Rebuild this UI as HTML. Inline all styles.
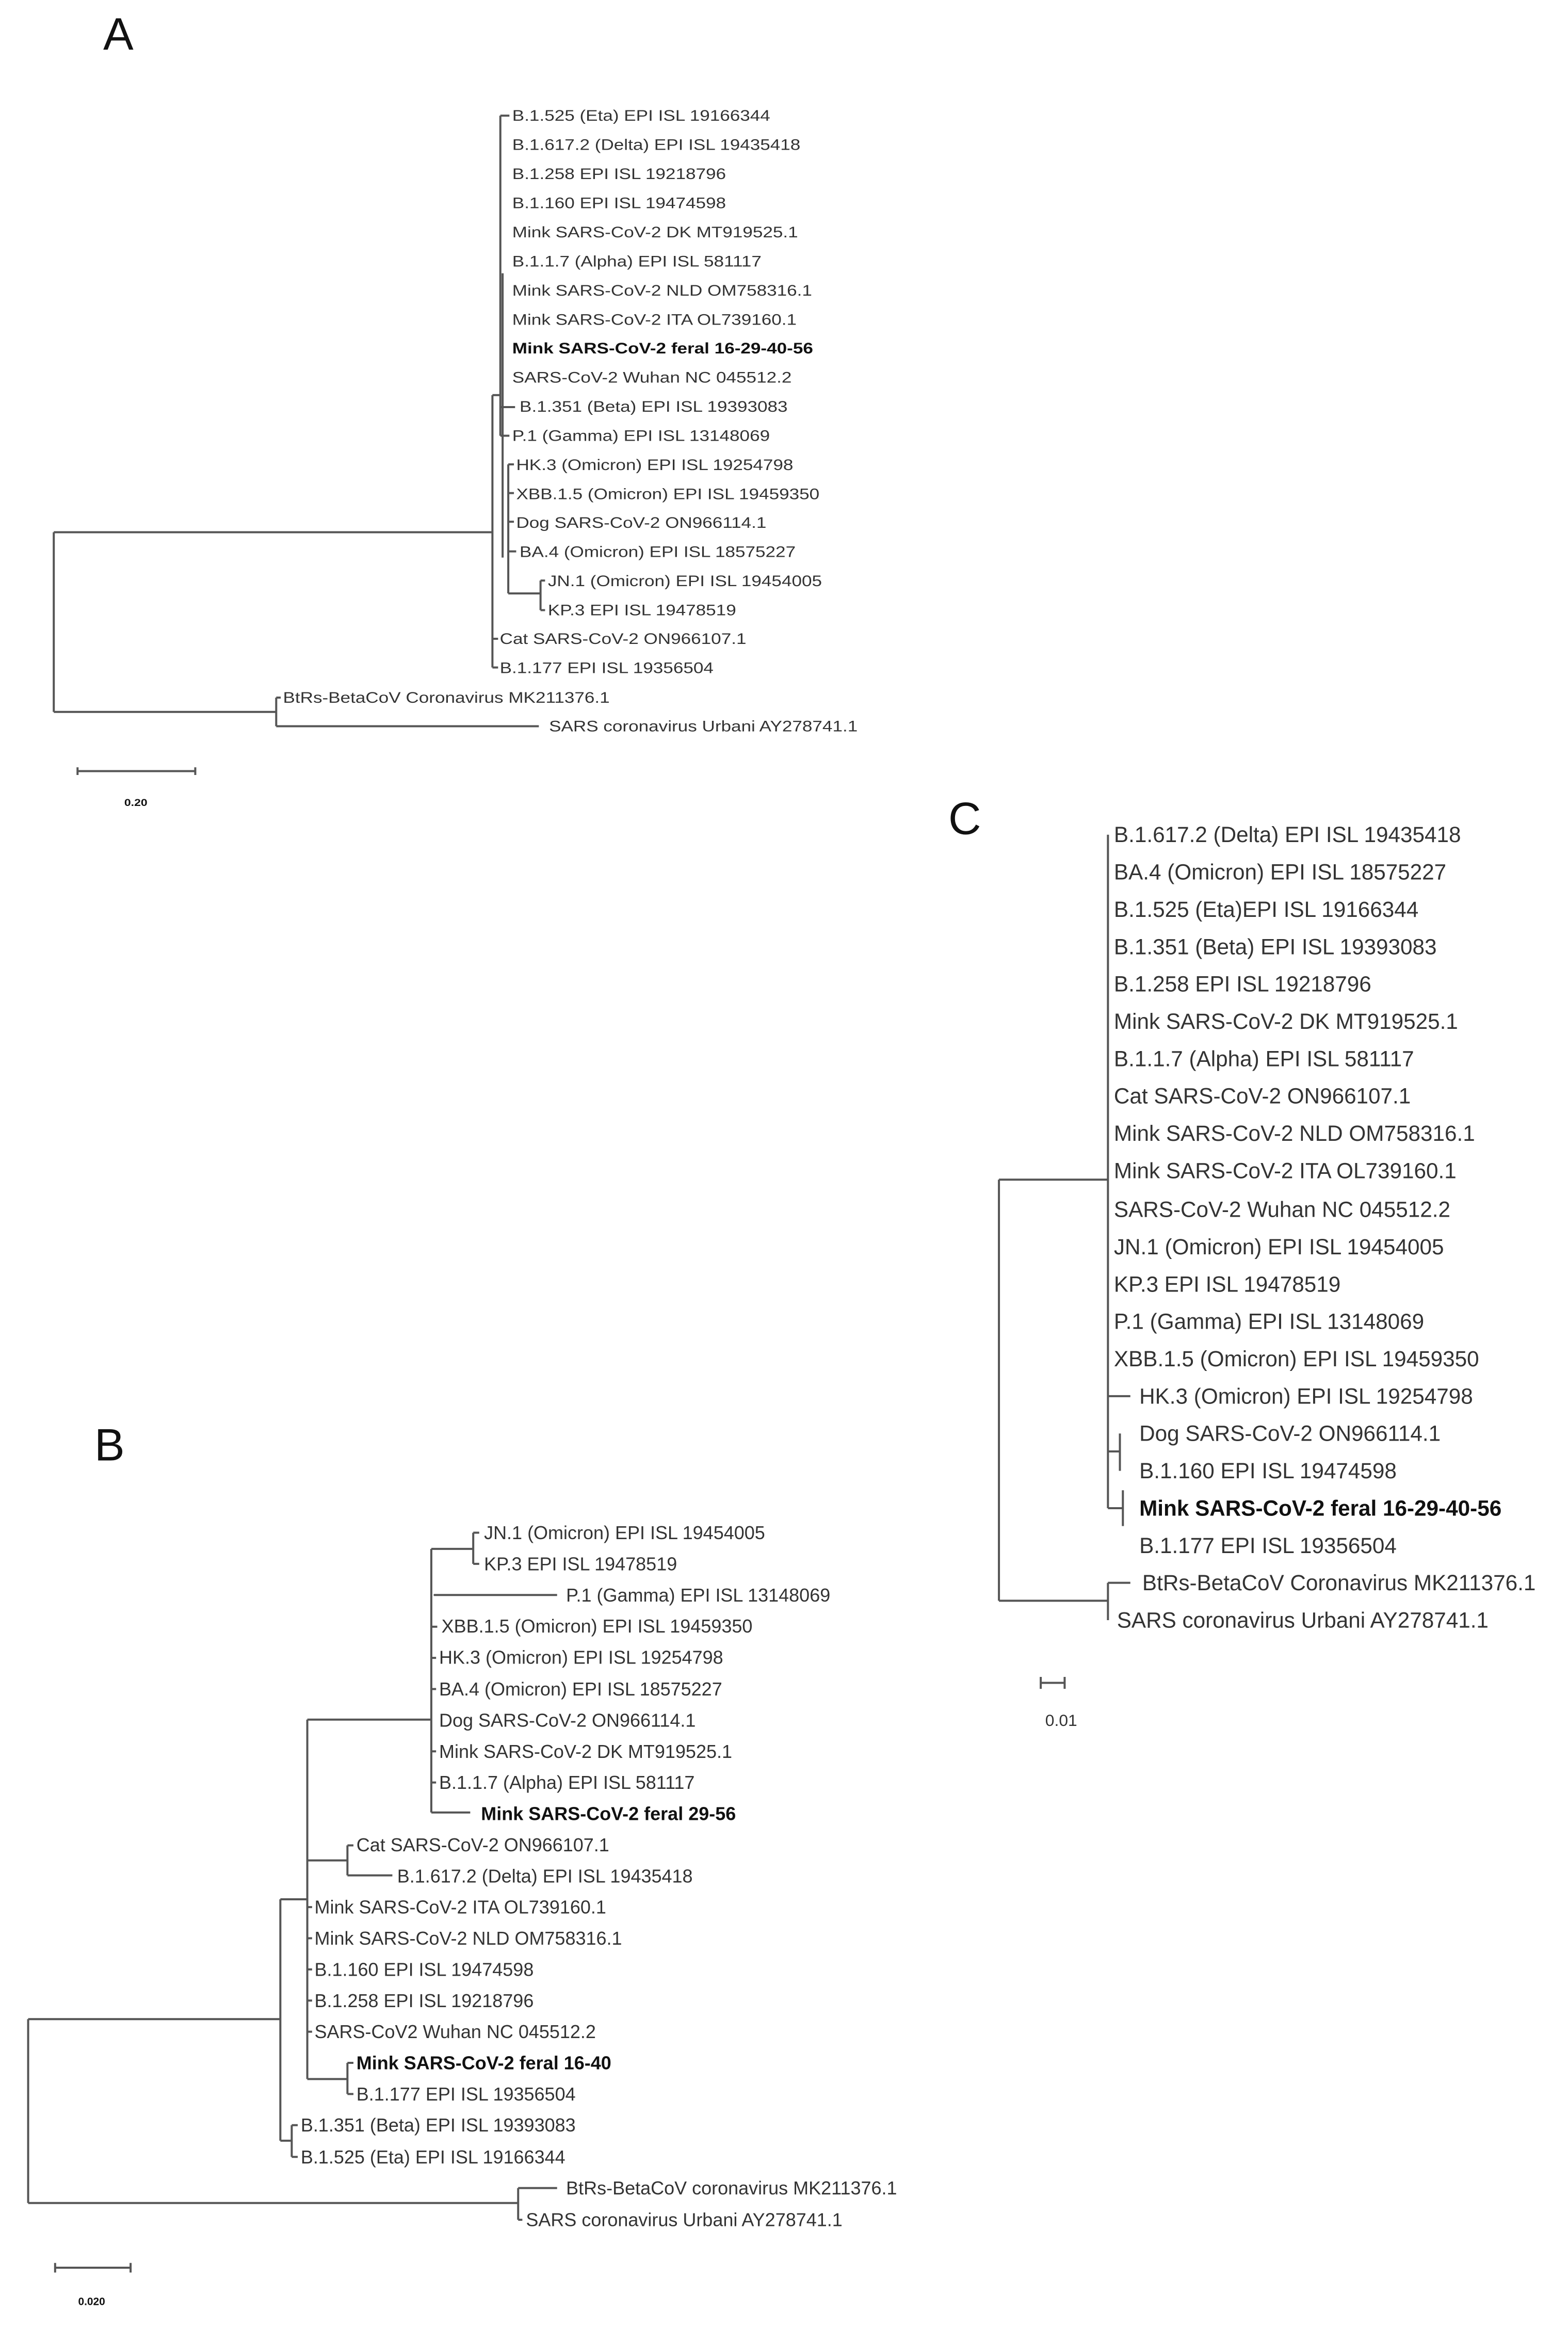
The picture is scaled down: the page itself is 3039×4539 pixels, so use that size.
<!DOCTYPE html>
<html><head><meta charset="utf-8"><style>
html,body{margin:0;padding:0;background:#fff;}
svg{display:block;}
text{font-family:"Liberation Sans",Arial,sans-serif;fill:#333;dominant-baseline:central;}
.b{font-weight:bold;fill:#111;}
path{fill:none;stroke:#555;stroke-width:4;vector-effect:non-scaling-stroke;}
</style></head><body>
<svg width="3039" height="4539" viewBox="0 0 3039 4539" xmlns="http://www.w3.org/2000/svg">
<rect width="3039" height="4539" fill="#fff"/>

<!-- Panel labels -->
<text x="200" y="66" style="font-size:88px;fill:#111">A</text>
<text x="183" y="2800" style="font-size:88px;fill:#111">B</text>
<text x="1838" y="1586" style="font-size:88px;fill:#111">C</text>

<!-- PANEL A -->
<g transform="translate(0,150) scale(1.097,0.926)">
<path d="M95 952 V1328 M95 952 H870 M95 1328 H488 M488 1298 V1358 M488 1298 H496 M488 1358 H952"/>
<path d="M870 665 V1235 M870 1175 H880 M870 1235 H880 M870 665 H884"/>
<path d="M884 80 V750 M884 80 H900 M884 750 H900 M888 410 V1005 M884 690 H910"/>
<path d="M898 810 V1080 M898 810 H908 M898 870 H908 M898 930 H908 M898 992 H912 M898 1080 H955 M955 1053 V1115 M955 1053 H963 M955 1115 H963"/>
<g style="font-size:32px">
<text x="905" y="80">B.1.525 (Eta) EPI ISL 19166344</text>
<text x="905" y="141">B.1.617.2 (Delta) EPI ISL 19435418</text>
<text x="905" y="202">B.1.258 EPI ISL 19218796</text>
<text x="905" y="263">B.1.160 EPI ISL 19474598</text>
<text x="905" y="324">Mink SARS-CoV-2 DK MT919525.1</text>
<text x="905" y="385">B.1.1.7 (Alpha) EPI ISL 581117</text>
<text x="905" y="446">Mink SARS-CoV-2 NLD OM758316.1</text>
<text x="905" y="507">Mink SARS-CoV-2 ITA OL739160.1</text>
<text x="905" y="567" class="b">Mink SARS-CoV-2 feral 16-29-40-56</text>
<text x="905" y="628">SARS-CoV-2 Wuhan NC 045512.2</text>
<text x="918" y="689">B.1.351 (Beta) EPI ISL 19393083</text>
<text x="905" y="750">P.1 (Gamma) EPI ISL 13148069</text>
<text x="912" y="811">HK.3 (Omicron) EPI ISL 19254798</text>
<text x="912" y="872">XBB.1.5 (Omicron) EPI ISL 19459350</text>
<text x="912" y="932">Dog SARS-CoV-2 ON966114.1</text>
<text x="918" y="993">BA.4 (Omicron) EPI ISL 18575227</text>
<text x="968" y="1054">JN.1 (Omicron) EPI ISL 19454005</text>
<text x="968" y="1115">KP.3 EPI ISL 19478519</text>
<text x="883" y="1175">Cat SARS-CoV-2 ON966107.1</text>
<text x="883" y="1236">B.1.177 EPI ISL 19356504</text>
<text x="500" y="1298">BtRs-BetaCoV Coronavirus MK211376.1</text>
<text x="970" y="1358">SARS coronavirus Urbani AY278741.1</text>
</g>
<path d="M137 1452 H345 M137 1444 V1460 M345 1444 V1460"/>
<text x="240" y="1518" text-anchor="middle" class="b" style="font-size:21px">0.20</text>
</g>

<!-- PANEL B -->
<g transform="translate(0,2700) scale(1.161)">
<path d="M47 1045 V1352 M47 1045 H468 M47 1352 H865 M865 1327 V1380 M865 1327 H930 M865 1380 H872"/>
<path d="M468 845 V1248 M468 845 H513 M468 1248 H487 M487 1222 V1275 M487 1222 H497 M487 1275 H497"/>
<path d="M513 545 V1145 M513 545 H720 M513 780 H580 M513 1145 H580 M513 858 H521 M513 910 H521 M513 962 H521 M513 1014 H521 M513 1066 H521"/>
<path d="M580 755 V805 M580 755 H590 M580 805 H655 M580 1118 V1170 M580 1118 H590 M580 1170 H590"/>
<path d="M720 260 V700 M720 700 H785 M720 260 H790 M724 337 H930 M720 390 H730 M720 442 H728 M720 494 H728 M720 598 H728 M720 650 H728"/>
<path d="M790 233 V285 M790 233 H800 M790 285 H800"/>
<g style="font-size:31px">
<text x="808" y="233">JN.1 (Omicron) EPI ISL 19454005</text>
<text x="808" y="285">KP.3 EPI ISL 19478519</text>
<text x="945" y="337">P.1 (Gamma) EPI ISL 13148069</text>
<text x="737" y="389">XBB.1.5 (Omicron) EPI ISL 19459350</text>
<text x="733" y="441">HK.3 (Omicron) EPI ISL 19254798</text>
<text x="733" y="494">BA.4 (Omicron) EPI ISL 18575227</text>
<text x="733" y="546">Dog SARS-CoV-2 ON966114.1</text>
<text x="733" y="598">Mink SARS-CoV-2 DK MT919525.1</text>
<text x="733" y="650">B.1.1.7 (Alpha) EPI ISL 581117</text>
<text x="803" y="702" class="b">Mink SARS-CoV-2 feral 29-56</text>
<text x="595" y="754">Cat SARS-CoV-2 ON966107.1</text>
<text x="663" y="806">B.1.617.2 (Delta) EPI ISL 19435418</text>
<text x="525" y="858">Mink SARS-CoV-2 ITA OL739160.1</text>
<text x="525" y="910">Mink SARS-CoV-2 NLD OM758316.1</text>
<text x="525" y="962">B.1.160 EPI ISL 19474598</text>
<text x="525" y="1014">B.1.258 EPI ISL 19218796</text>
<text x="525" y="1066">SARS-CoV2 Wuhan NC 045512.2</text>
<text x="595" y="1118" class="b">Mink SARS-CoV-2 feral 16-40</text>
<text x="595" y="1170">B.1.177 EPI ISL 19356504</text>
<text x="502" y="1222">B.1.351 (Beta) EPI ISL 19393083</text>
<text x="502" y="1275">B.1.525 (Eta) EPI ISL 19166344</text>
<text x="945" y="1327">BtRs-BetaCoV coronavirus MK211376.1</text>
<text x="878" y="1380">SARS coronavirus Urbani AY278741.1</text>
</g>
<path d="M92 1460 H218 M92 1452 V1468 M218 1452 V1468"/>
<text x="153" y="1517" text-anchor="middle" class="b" style="font-size:18px">0.020</text>
</g>

<!-- PANEL C -->
<g transform="scale(2.894)">
<path d="M669 790 V1072 M669 790 H742 M669 1072 H742"/>
<path d="M742 559 V1010 M742 935 H757 M742 972 H750 M750 960 V985 M742 1010 H752 M752 998 V1022"/>
<path d="M742 1060 V1085 M742 1060 H757"/>
<path d="M697 1127 H713 M697 1123 V1131 M713 1123 V1131"/>
<g style="font-size:14.6px">
<text x="746" y="559">B.1.617.2 (Delta) EPI ISL 19435418</text>
<text x="746" y="584">BA.4 (Omicron) EPI ISL 18575227</text>
<text x="746" y="609">B.1.525 (Eta)EPI ISL 19166344</text>
<text x="746" y="634">B.1.351 (Beta) EPI ISL 19393083</text>
<text x="746" y="659">B.1.258 EPI ISL 19218796</text>
<text x="746" y="684">Mink SARS-CoV-2 DK MT919525.1</text>
<text x="746" y="709">B.1.1.7 (Alpha) EPI ISL 581117</text>
<text x="746" y="734">Cat SARS-CoV-2 ON966107.1</text>
<text x="746" y="759">Mink SARS-CoV-2 NLD OM758316.1</text>
<text x="746" y="784">Mink SARS-CoV-2 ITA OL739160.1</text>
<text x="746" y="810">SARS-CoV-2 Wuhan NC 045512.2</text>
<text x="746" y="835">JN.1 (Omicron) EPI ISL 19454005</text>
<text x="746" y="860">KP.3 EPI ISL 19478519</text>
<text x="746" y="885">P.1 (Gamma) EPI ISL 13148069</text>
<text x="746" y="910">XBB.1.5 (Omicron) EPI ISL 19459350</text>
<text x="763" y="935">HK.3 (Omicron) EPI ISL 19254798</text>
<text x="763" y="960">Dog SARS-CoV-2 ON966114.1</text>
<text x="763" y="985">B.1.160 EPI ISL 19474598</text>
<text x="763" y="1010" class="b">Mink SARS-CoV-2 feral 16-29-40-56</text>
<text x="763" y="1035">B.1.177 EPI ISL 19356504</text>
<text x="765" y="1060">BtRs-BetaCoV Coronavirus MK211376.1</text>
<text x="748" y="1085">SARS coronavirus Urbani AY278741.1</text>
</g>
<text x="700" y="1152" style="font-size:11px">0.01</text>
</g>
</svg>
</body></html>
